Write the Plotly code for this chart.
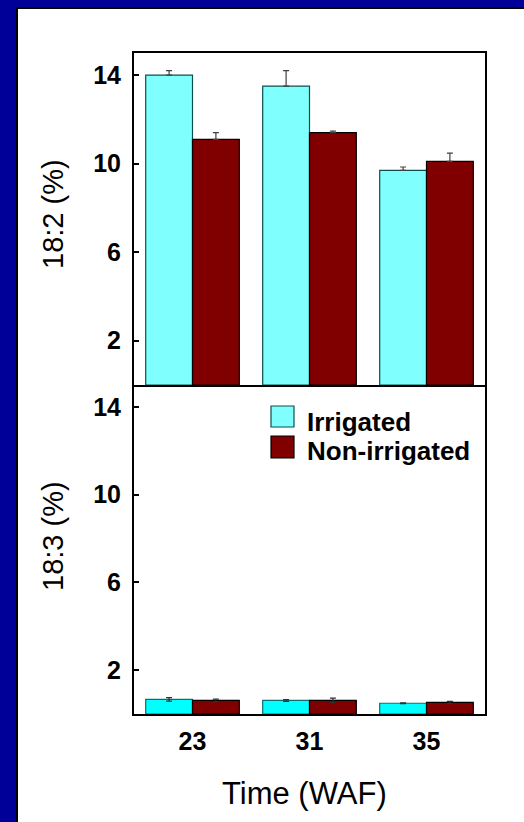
import plotly.graph_objects as go

# ---- data ----
weeks = ["23", "31", "35"]
irrigated_182 = [14.0, 13.5, 9.7]
irrigated_182_err = [0.2, 0.7, 0.15]
nonirrigated_182 = [11.1, 11.4, 10.1]
nonirrigated_182_err = [0.3, 0.07, 0.38]
irrigated_183 = [0.67, 0.62, 0.49]
irrigated_183_err = [0.08, 0.04, 0.02]
nonirrigated_183 = [0.62, 0.62, 0.53]
nonirrigated_183_err = [0.06, 0.1, 0.05]
y_ticks = [2, 6, 10, 14]

W, H = 524, 822
L, R, T, B = 134, 39, 53, 108
PW, PH = W - L - R, H - T - B
split = (714 - 385) / PH

def px(x):
    return (x - L) / PW

def py(y):
    return (H - B - y) / PH

FONT = "Arial, Liberation Sans, sans-serif"
CYAN_LIGHT = "#80FFFF"
CYAN = "#00FFFF"
MAROON = "#800000"

fig = go.Figure()
# top panel: 18:2
fig.add_trace(go.Bar(x=weeks, y=irrigated_182, xaxis="x2", yaxis="y2", name="Irrigated",
                     marker=dict(color=CYAN_LIGHT, line=dict(color="#0D4F4F", width=1.2)),
                     error_y=dict(type="data", array=irrigated_182_err, arrayminus=[0]*3, symmetric=False,
                                  color="#404040", thickness=1.2, width=3),
                     offsetgroup="a", showlegend=False))
fig.add_trace(go.Bar(x=weeks, y=nonirrigated_182, xaxis="x2", yaxis="y2", name="Non-irrigated",
                     marker=dict(color=MAROON, line=dict(color="#000000", width=1.2)),
                     error_y=dict(type="data", array=nonirrigated_182_err, arrayminus=[0]*3, symmetric=False,
                                  color="#404040", thickness=1.2, width=3),
                     offsetgroup="b", showlegend=False))
# bottom panel: 18:3
fig.add_trace(go.Bar(x=weeks, y=irrigated_183, xaxis="x", yaxis="y", name="Irrigated",
                     marker=dict(color=CYAN, line=dict(color="#0D6F6F", width=1.2)),
                     error_y=dict(type="data", array=irrigated_183_err, color="#303030", thickness=1.2, width=3),
                     offsetgroup="a", showlegend=False))
fig.add_trace(go.Bar(x=weeks, y=nonirrigated_183, xaxis="x", yaxis="y", name="Non-irrigated",
                     marker=dict(color=MAROON, line=dict(color="#000000", width=1.2)),
                     error_y=dict(type="data", array=nonirrigated_183_err, color="#303030", thickness=1.2, width=3),
                     offsetgroup="b", showlegend=False))

tickfont = dict(family=FONT, size=25, color="black", weight="bold")
yax = dict(range=[0, 15], tickvals=y_ticks, ticks="inside", ticklen=5, tickwidth=2, tickcolor="black",
           showline=True, linecolor="black", linewidth=2, mirror=True, showgrid=False, zeroline=False,
           tickfont=tickfont, ticklabelstandoff=6)
xax = dict(type="category", showline=True, linecolor="black", linewidth=2,
           showgrid=False, ticks="", tickfont=tickfont)

shapes = [
    # blue frame strips
    dict(type="rect", xref="paper", yref="paper", x0=px(0), x1=px(W), y0=py(0), y1=py(7),
         fillcolor="#000099", line=dict(width=0), layer="above"),
    dict(type="rect", xref="paper", yref="paper", x0=px(0), x1=px(16), y0=py(0), y1=py(H),
         fillcolor="#000099", line=dict(width=0), layer="above"),
    dict(type="line", xref="paper", yref="paper", x0=px(16), x1=px(W), y0=py(8), y1=py(8),
         line=dict(color="black", width=2)),
    dict(type="line", xref="paper", yref="paper", x0=px(17), x1=px(17), y0=py(8), y1=py(H),
         line=dict(color="black", width=2)),
    # legend swatches
    dict(type="rect", xref="paper", yref="paper", x0=px(271), x1=px(294), y0=py(406), y1=py(427),
         fillcolor=CYAN_LIGHT, line=dict(color="#0D4F4F", width=1.2)),
    dict(type="rect", xref="paper", yref="paper", x0=px(271), x1=px(294), y0=py(436), y1=py(458),
         fillcolor=MAROON, line=dict(color="black", width=1.2)),
]

annotations = [
    dict(text="Irrigated", xref="paper", yref="paper", x=px(305), y=py(422), xanchor="left", yanchor="middle",
         showarrow=False, font=dict(family=FONT, size=26, color="black", weight="bold")),
    dict(text="Non-irrigated", xref="paper", yref="paper", x=px(305), y=py(451), xanchor="left", yanchor="middle",
         showarrow=False, font=dict(family=FONT, size=26, color="black", weight="bold")),
    dict(text="18:2 (%)", xref="paper", yref="paper", x=px(53), y=py(214), textangle=-90,
         xanchor="center", yanchor="middle", showarrow=False, font=dict(family=FONT, size=29, color="black")),
    dict(text="18:3 (%)", xref="paper", yref="paper", x=px(53), y=py(536), textangle=-90,
         xanchor="center", yanchor="middle", showarrow=False, font=dict(family=FONT, size=29, color="black")),
    dict(text="Time (WAF)", xref="paper", yref="paper", x=px(304), y=py(793),
         xanchor="center", yanchor="middle", showarrow=False, font=dict(family=FONT, size=31, color="black")),
]

fig.update_layout(
    width=W, height=H,
    margin=dict(l=L, r=R, t=T, b=B),
    paper_bgcolor="white", plot_bgcolor="white",
    barmode="group", bargap=0.2, bargroupgap=0,
    xaxis=dict(xax, anchor="y", domain=[0, 1], mirror=False, ticklabelstandoff=4),
    xaxis2=dict(xax, anchor="y2", matches="x", showticklabels=False, mirror=True),
    yaxis=dict(yax, domain=[0, split], anchor="x"),
    yaxis2=dict(yax, domain=[split, 1], anchor="x2"),
    shapes=shapes, annotations=annotations,
    showlegend=False,
)

fig.write_html("out.html", config={"displayModeBar": False},
               post_script="document.body.style.margin='0px';")
